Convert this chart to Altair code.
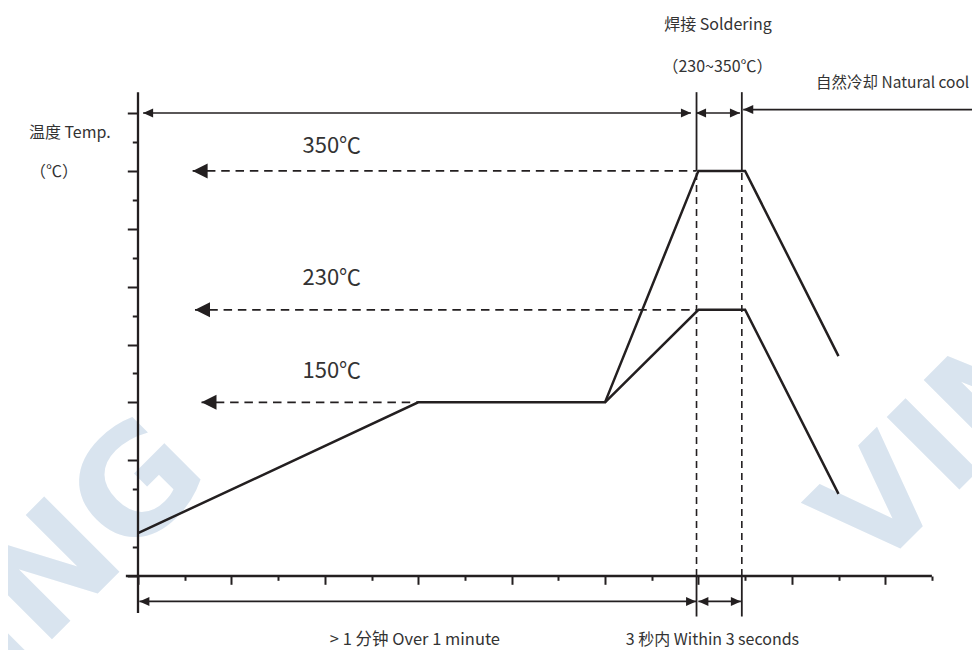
import altair as alt
import pandas as pd

# ---------------- data ----------------
# temperature profile (time in axis-tick units, temperature in °C)
upper_time = [0, 6, 10, 12, 13, 15]
upper_temp = [37, 150, 150, 350, 350, 190]
lower_time = [10, 12, 13, 15]
lower_temp = [150, 230, 230, 71]

# reference temperature levels
level_temp = [350, 230, 150]
level_label = ["350℃", "230℃", "150℃"]
level_arrow_tip = [1.17, 1.22, 1.36]
level_line_end = [11.96, 11.96, 6.0]
level_label_time = [4.15, 4.15, 4.15]
level_label_temp = [371.7, 257.7, 177.1]

# soldering window boundaries (time) and their extent (temperature)
window_time = [11.96, 12.93]
window_solid_top = [350, 418]
window_dash = [0, 350]
window_solid_bottom = [-35, 0]

# axis lines
yaxis_extent = [-32, 418]
xaxis_extent = [-0.26, 17]

# tick values
x_ticks = list(range(0, 18))
y_ticks = list(range(0, 401, 25))

# dimension arrows
arrow_start = [0.11, 11.95, 12.96, 0.03, 12.00]
arrow_end = [11.84, 12.89, 18.5, 11.95, 12.91]
arrow_temp = [400, 400, 403, -22, -22]
arrow_has_right_head = [True, True, False, True, True]

# annotations
note_text = ["温度 Temp.", "（℃）", "焊接 Soldering", "（230~350℃）",
             "> 1 分钟 Over 1 minute", "3 秒内 Within 3 seconds"]
note_time = [-1.46, -1.80, 12.42, 12.41, 5.93, 12.30]
note_temp = [382.5, 348.6, 476, 440, -55.5, -55.5]
note_size = [16, 16, 16, 16, 16.5, 16]
cool_text = ["自然冷却 Natural cool"]
cool_time = [14.52]
cool_temp = [425.7]

# watermark
wm_text = ["VIMING", "VIMING"]
wm_time = [1.62, 15.74]
wm_temp = [85, 0]

# ---------------- styling ----------------
INK = "#231f20"
TEXT = "#333333"
FONT = "Noto Sans CJK SC"
WM = "#d9e4ef"

xscale = alt.Scale(domain=[0, 17], nice=False, zero=False)
yscale = alt.Scale(domain=[0, 400], nice=False, zero=False)
xaxis = alt.Axis(values=x_ticks, labels=False, title=None, grid=False, domain=False,
                 tickSize={"condition": {"test": "datum.value % 2 === 0", "value": 8.3}, "value": 4.3},
                 tickWidth=2, tickColor=INK)
yaxis = alt.Axis(values=y_ticks, labels=False, title=None, grid=False, domain=False,
                 tickSize={"condition": {"test": "datum.value % 50 === 0", "value": 10.7}, "value": 5.7},
                 tickWidth=2, tickColor=INK)


def X(f):
    return alt.X(f, type="quantitative", scale=xscale, axis=xaxis)


def Y(f):
    return alt.Y(f, type="quantitative", scale=yscale, axis=yaxis)


# ---------------- tables ----------------
profile = pd.DataFrame({
    "t": upper_time + lower_time,
    "temp": upper_temp + lower_temp,
    "series": ["upper"] * len(upper_time) + ["lower"] * len(lower_time),
    "order": list(range(len(upper_time))) + list(range(len(lower_time))),
})

levels = pd.DataFrame({"temp": level_temp, "label": level_label, "tip": level_arrow_tip,
                       "end": level_line_end, "lt": level_label_time, "ltemp": level_label_temp})

win_solid = pd.DataFrame({
    "t": window_time * 2,
    "y1": [window_solid_top[0]] * 2 + [window_solid_bottom[0]] * 2,
    "y2": [window_solid_top[1]] * 2 + [window_solid_bottom[1]] * 2,
})
win_dash = pd.DataFrame({"t": window_time, "y1": [window_dash[0]] * 2, "y2": [window_dash[1]] * 2})

axes_lines = pd.DataFrame({
    "x1": [0, xaxis_extent[0]], "x2": [0, xaxis_extent[1]],
    "y1": [yaxis_extent[0], 0], "y2": [yaxis_extent[1], 0],
})

arrows = pd.DataFrame({"x1": arrow_start, "x2": arrow_end, "temp": arrow_temp,
                       "right": arrow_has_right_head})
right_heads = arrows[arrows["right"]]

notes = pd.DataFrame({"text": note_text, "t": note_time, "temp": note_temp, "size": note_size})
cool = pd.DataFrame({"text": cool_text, "t": cool_time, "temp": cool_temp})
wm = pd.DataFrame({"text": wm_text, "t": wm_time, "temp": wm_temp})

# ---------------- layers ----------------
wm_left = alt.Chart(wm.iloc[[0]]).mark_text(
    align="right", baseline="alphabetic", angle=315, font="DejaVu Sans", fontWeight="bold",
    fontSize=146, color=WM).encode(x=X("t"), y=Y("temp"), text="text:N")
wm_right = alt.Chart(wm.iloc[[1]]).mark_text(
    align="left", baseline="alphabetic", angle=315, font="DejaVu Sans", fontWeight="bold",
    fontSize=141, color=WM).encode(x=X("t"), y=Y("temp"), text="text:N")

level_lines = alt.Chart(levels).mark_rule(color=INK, strokeWidth=1.8, strokeDash=[8.5, 5.8]).encode(
    x=X("tip"), x2="end", y=Y("temp"))
level_heads = alt.Chart(levels).mark_point(
    shape="M0,0L2,-1L2,1Z", size=225, filled=True, color=INK, opacity=1, strokeWidth=0).encode(
    x=X("tip"), y=Y("temp"))
level_text = alt.Chart(levels).mark_text(font=FONT, fontSize=22, color=TEXT, baseline="middle").encode(
    x=X("lt"), y=Y("ltemp"), text="label:N")

win_solid_l = alt.Chart(win_solid).mark_rule(color=INK, strokeWidth=1.8).encode(
    x=X("t"), y=Y("y1"), y2="y2")
win_dash_l = alt.Chart(win_dash).mark_rule(color=INK, strokeWidth=1.6, strokeDash=[7, 5]).encode(
    x=X("t"), y=Y("y1"), y2="y2")

axes_l = alt.Chart(axes_lines).mark_rule(color=INK, strokeWidth=2.3).encode(
    x=X("x1"), x2="x2", y=Y("y1"), y2="y2")

profile_l = alt.Chart(profile).mark_line(color=INK, strokeWidth=2.5, strokeJoin="miter").encode(
    x=X("t"), y=Y("temp"), detail="series:N", order="order:Q")

arrow_l = alt.Chart(arrows).mark_rule(color=INK, strokeWidth=1.7).encode(
    x=X("x1"), x2="x2", y=Y("temp"))
left_heads_l = alt.Chart(arrows).mark_point(
    shape="M0,0L2,-0.9L2,0.9Z", size=100, filled=True, color=INK, opacity=1, strokeWidth=0).encode(
    x=X("x1"), y=Y("temp"))
right_heads_l = alt.Chart(right_heads).mark_point(
    shape="M0,0L-2,-0.9L-2,0.9Z", size=100, filled=True, color=INK, opacity=1, strokeWidth=0).encode(
    x=X("x2"), y=Y("temp"))

notes_l = alt.Chart(notes).mark_text(font=FONT, color=TEXT, baseline="middle").encode(
    x=X("t"), y=Y("temp"), text="text:N",
    size=alt.Size("size:Q", scale=None, legend=None))
cool_l = alt.Chart(cool).mark_text(font=FONT, fontSize=15.5, color=TEXT, baseline="middle",
                                   align="left").encode(x=X("t"), y=Y("temp"), text="text:N")

chart = alt.layer(
    wm_left, wm_right, level_lines, win_dash_l, win_solid_l, axes_l, profile_l,
    arrow_l, left_heads_l, right_heads_l, level_heads, level_text, notes_l, cool_l,
).properties(
    width=17 * 46.7, height=463,
    autosize=alt.AutoSizeParams(type="none"),
    padding={"left": 130, "top": 105, "right": 40, "bottom": 74},
    background="white",
).configure_view(stroke=None)

chart.save("out.html", embed_options={"renderer": "svg", "actions": False})
